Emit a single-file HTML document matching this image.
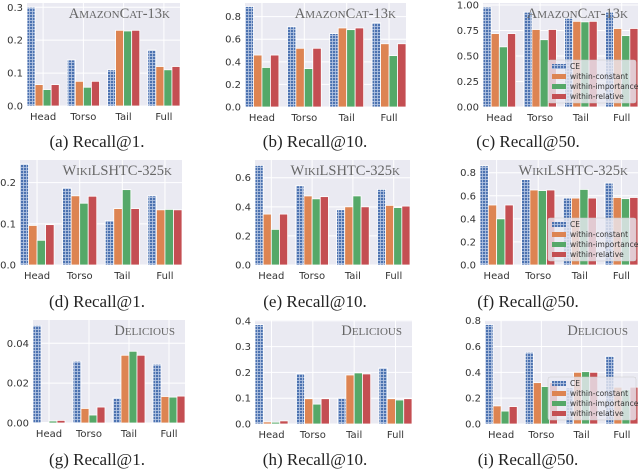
<!DOCTYPE html>
<html><head><meta charset="utf-8">
<style>
html,body{margin:0;padding:0;background:#fff;}
svg{display:block;}
</style></head>
<body>
<svg id="fig" width="640" height="469" viewBox="0 0 640 469" xmlns="http://www.w3.org/2000/svg">
<defs>
<pattern id="hatch" width="3" height="3" patternUnits="userSpaceOnUse">
<rect width="3" height="3" fill="#4c72b0"/>
<rect x="0" y="2.2" width="3" height="0.8" fill="#b8c8e4"/>
<rect x="2.2" y="0" width="0.8" height="3" fill="#b8c8e4"/>
</pattern>
</defs>
</svg>
<script>
const categories = ["Head","Torso","Tail","Full"];
const seriesNames = ["CE","within-constant","within-importance","within-relative"];
const datasets = ["AmazonCat-13k","AmazonCat-13k","AmazonCat-13k","WikiLSHTC-325k","WikiLSHTC-325k","WikiLSHTC-325k","Delicious","Delicious","Delicious"];
const captions = ["(a) Recall@1.","(b) Recall@10.","(c) Recall@50.","(d) Recall@1.","(e) Recall@10.","(f) Recall@50.","(g) Recall@1.","(h) Recall@10.","(i) Recall@50."];
const ceValues = [
 [0.30,0.14,0.11,0.17],[0.89,0.71,0.65,0.745],[0.98,0.93,0.87,0.93],
 [0.245,0.187,0.108,0.168],[0.685,0.545,0.38,0.52],[0.86,0.74,0.58,0.71],
 [0.049,0.031,0.0125,0.0295],[0.385,0.195,0.10,0.217],[0.77,0.555,0.28,0.525]];
const constantValues = [
 [0.065,0.075,0.23,0.12],[0.46,0.52,0.70,0.56],[0.72,0.76,0.84,0.77],
 [0.096,0.168,0.137,0.134],[0.35,0.475,0.40,0.41],[0.52,0.65,0.58,0.585],
 [0.0003,0.0073,0.034,0.0133],[0.008,0.098,0.19,0.098],[0.14,0.32,0.40,0.285]];
const importanceValues = [
 [0.05,0.057,0.228,0.11],[0.35,0.34,0.685,0.455],[0.59,0.66,0.835,0.70],
 [0.06,0.15,0.183,0.135],[0.245,0.455,0.475,0.395],[0.40,0.645,0.655,0.575],
 [0.001,0.004,0.036,0.013],[0.007,0.077,0.198,0.093],[0.10,0.29,0.405,0.265]];
const relativeValues = [
 [0.065,0.075,0.23,0.12],[0.46,0.52,0.70,0.56],[0.72,0.76,0.84,0.77],
 [0.098,0.167,0.137,0.134],[0.35,0.47,0.40,0.405],[0.52,0.65,0.58,0.585],
 [0.0013,0.008,0.034,0.0135],[0.012,0.098,0.194,0.098],[0.135,0.32,0.40,0.285]];
const yTicks = [
 ["0.0","0.1","0.2","0.3"],["0.0","0.2","0.4","0.6","0.8"],["0.00","0.25","0.50","0.75","1.00"],
 ["0.0","0.1","0.2"],["0.0","0.2","0.4","0.6"],["0.0","0.2","0.4","0.6","0.8"],
 ["0.00","0.02","0.04"],["0.0","0.1","0.2","0.3","0.4"],["0.0","0.2","0.4","0.6","0.8"]];
const yMax = [0.313,0.921,1.02,0.255,0.722,0.91,0.0517,0.403,0.805];

const layout = [
 {x0:27,x1:180,y0:3,y1:106},{x0:245,x1:406,y0:3,y1:107},{x0:483,x1:638,y0:3,y1:107},
 {x0:20,x1:182,y0:160,y1:265},{x0:255,x1:410,y0:160,y1:265},{x0:480,x1:638,y0:160,y1:265},
 {x0:33,x1:185,y0:320,y1:423},{x0:255,x1:412,y0:320,y1:424},{x0:485,x1:638,y0:320,y1:424}];
const captionPos = [[97,142],[315,142],[528,142],[97,302],[315,302],[528,302],[97,460],[315,460],[528,460]];
const colors = ["url(#hatch)","#dd8452","#55a868","#c44e52"];
const svg = document.getElementById('fig');
const NS = "http://www.w3.org/2000/svg";
function mk(tag, attrs, parent){
  const e = document.createElementNS(NS, tag);
  for (const k in attrs) e.setAttribute(k, attrs[k]);
  (parent||svg).appendChild(e);
  return e;
}
function smallCaps(g, text, x, y){
  const t = mk('text',{x:x,y:y,'text-anchor':'end','font-family':'"Liberation Serif",serif',fill:'#666','font-size':14.5},g);
  
  
  for (const ch of text){
    const s = mk('tspan',{},t);
    if (/[a-z]/.test(ch)){ s.setAttribute('font-size','11'); s.textContent = ch.toUpperCase(); }
    else s.textContent = ch;
  }
}
for (let p=0;p<9;p++){
  const L = layout[p];
  const g = mk('g',{});
  
  
  const yS = v => L.y1 - v/yMax[p]*(L.y1-L.y0);
  const xS = v => L.x0 + (v+0.4)/3.8*(L.x1-L.x0);
  const bg = mk('rect',{x:L.x0,y:L.y0,width:L.x1-L.x0,height:L.y1-L.y0,fill:'#eaeaf2'},g);
  
  
  yTicks[p].forEach(lbl=>{
    const v = parseFloat(lbl), y = yS(v);
    const gl = mk('line',{x1:L.x0,x2:L.x1,y1:y,y2:y,stroke:'#fff','stroke-width':1},g);
    
    
    const t = mk('text',{x:L.x0-4,y:y+3.5,'text-anchor':'end','font-family':'"DejaVu Sans",sans-serif','font-size':10,fill:'#333'},g);
    
    
    t.textContent = lbl;
  });
  categories.forEach((c,i)=>{
    const x = xS(i);
    const gl = mk('line',{x1:x,x2:x,y1:L.y0,y2:L.y1,stroke:'#fff','stroke-width':1},g);
    
    
    const t = mk('text',{x:x,y:L.y1+14,'text-anchor':'middle','font-family':'"DejaVu Sans",sans-serif','font-size':10,fill:'#333'},g);
    
    
    t.textContent = c;
  });
  const all = [ceValues[p],constantValues[p],importanceValues[p],relativeValues[p]];
  all.forEach((vals,s)=>{
    vals.forEach((v,i)=>{
      const xa = xS(i-0.4+0.2*s), xb = xS(i-0.2+0.2*s);
      const y = yS(v);
      const r = mk('rect',{x:xa,y:y,width:xb-xa,height:L.y1-y,fill:colors[s],stroke:'#fff','stroke-width':0.8},g);
      
      
    });
  });
  smallCaps(g, datasets[p], L.x1-10, L.y0+15);
  const cap = mk('text',{x:captionPos[p][0],y:captionPos[p][1]+5,'text-anchor':'middle','font-family':'"Liberation Serif",serif','font-size':17,fill:'#222'},g);
  
  
  cap.textContent = captions[p];
  if (p%3===2){
    const lx = L.x1-90, ly = L.y1-47;
    const lg = mk('g',{},g);
    
    
    mk('rect',{x:lx,y:ly,width:88,height:43,rx:2,fill:'#eaeaf2','fill-opacity':0.8,stroke:'#ccc','stroke-width':0.5},lg);
    seriesNames.forEach((n,s)=>{
      const yy = ly+6+s*10;
      const sw = mk('rect',{x:lx+4,y:yy-2,width:14,height:5,fill:colors[s]},lg);
      
      
      const t = mk('text',{x:lx+22,y:yy+3,'font-family':'"DejaVu Sans",sans-serif','font-size':7.5,fill:'#333'},lg);
      
      
      t.textContent = n;
    });
  }
}
</script>
</body></html>
